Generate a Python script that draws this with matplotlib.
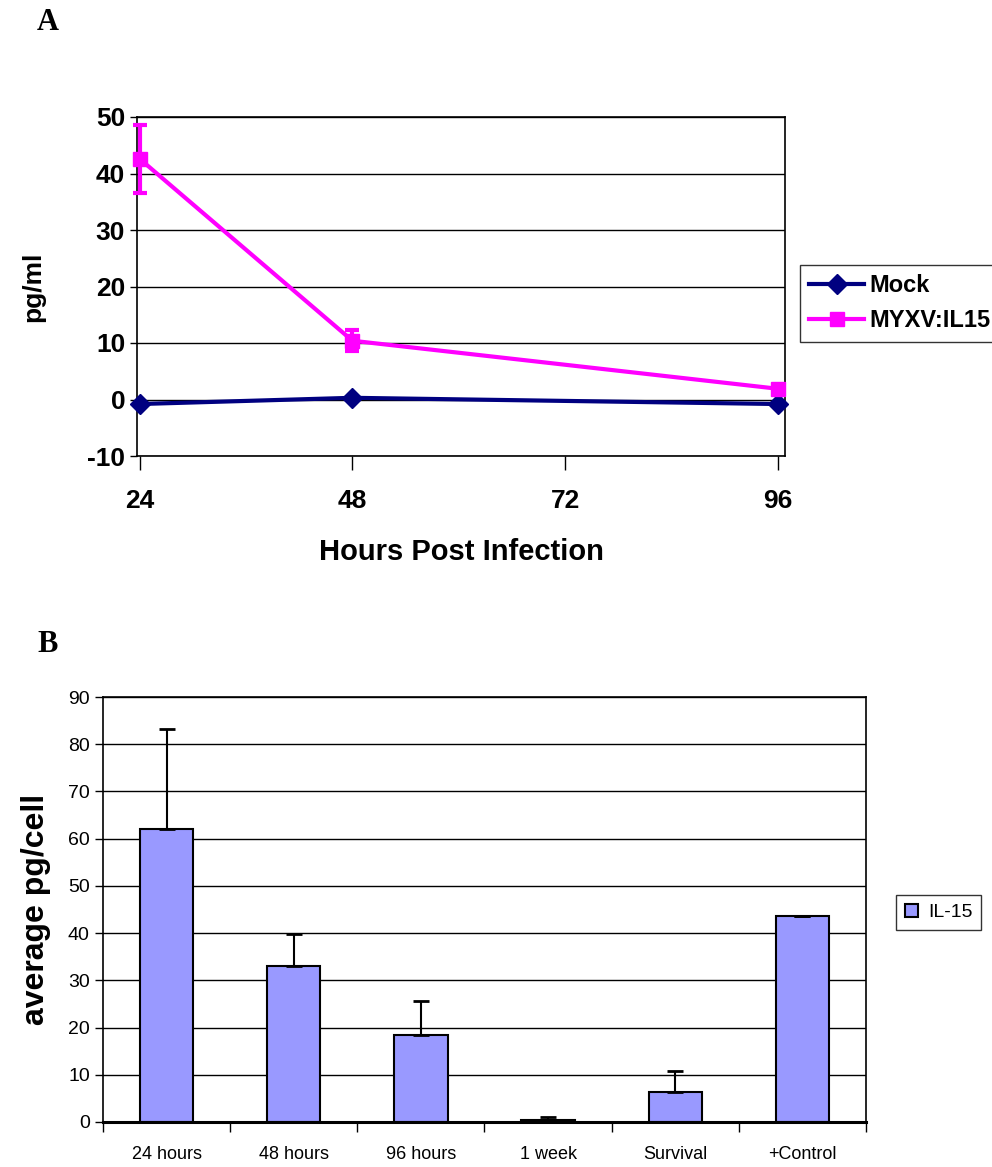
import matplotlib
matplotlib.use("Agg")
import matplotlib.pyplot as plt
from matplotlib.patches import Patch
from matplotlib.lines import Line2D
import numpy as np

plt.rcParams['font.family'] = ['Liberation Sans', 'DejaVu Sans']
plt.rcParams['axes.unicode_minus'] = False

# panel A data
hours = [24, 48, 96]
mock = [-0.8, 0.3, -0.8]
myxv = [42.6, 10.4, 1.9]
myxv_err = [6.0, 1.9, 0.0]

# panel B data
groups = ['24 hours', '48 hours', '96 hours', '1 week', 'Survival', '+Control']
il15 = [62.0, 33.0, 18.4, 0.5, 6.4, 43.6]
il15_err = [21.2, 6.8, 7.3, 0.6, 4.5, 0.0]

fig = plt.figure(figsize=(9.92, 11.67), dpi=100)
W, H = 992, 1167

def px_axes(l, t, r, b):
    return fig.add_axes([l / W, 1 - b / H, (r - l) / W, (b - t) / H])

# ---- panel A ----
ax1 = px_axes(137, 117, 785, 456)
ax1.set_axisbelow(True)
ax1.grid(axis='y', color='black', linewidth=1)
ax1.plot(hours, mock, color='#000080', linewidth=3, marker='D',
         markersize=10, zorder=3, clip_on=False)
ax1.errorbar(hours, myxv, yerr=myxv_err, color='#FF00FF', linewidth=3,
             marker='s', markersize=10, capsize=5, capthick=3,
             elinewidth=3, zorder=4, clip_on=False)
ax1.set_xlim(23.7, 96.8)
ax1.set_ylim(-10, 50)
ax1.set_xticks([24, 48, 72, 96])
ax1.set_yticks(range(-10, 51, 10))
ax1.tick_params(axis='x', length=10, width=1, pad=14, labelsize=19)
ax1.tick_params(axis='y', length=5, width=1, labelsize=19)
for lab in ax1.get_xticklabels() + ax1.get_yticklabels():
    lab.set_fontweight('bold')
ax1.set_xlabel('Hours Post Infection', fontsize=21, fontweight='bold', labelpad=18)
ax1.set_ylabel('pg/ml', fontsize=19, fontweight='bold', labelpad=30)
for s in ax1.spines.values():
    s.set_linewidth(1.2)

h1 = [Line2D([], [], color='#000080', linewidth=3, marker='D', markersize=10),
      Line2D([], [], color='#FF00FF', linewidth=3, marker='s', markersize=10)]
leg1 = fig.legend(h1, ['Mock', 'MYXV:IL15'], loc='upper left',
                  bbox_to_anchor=(800 / W, 1 - 265 / H),
                  prop={'size': 17, 'weight': 'bold'}, frameon=True, fancybox=False,
                  edgecolor='black', handlelength=2.3, handletextpad=0.25,
                  borderpad=0.4, borderaxespad=0, labelspacing=0.5)
leg1.get_frame().set_linewidth(1)

# ---- panel B ----
ax2 = px_axes(103, 697, 866, 1122)
ax2.set_axisbelow(True)
ax2.grid(axis='y', color='black', linewidth=1)
x = np.arange(len(groups))
err_lo = np.zeros(len(il15_err))
ax2.bar(x, il15, width=0.42, color='#9999FF', edgecolor='black', linewidth=1.5, zorder=2)
ax2.errorbar(x, il15, yerr=[err_lo, il15_err], fmt='none', ecolor='black',
             elinewidth=1.5, capsize=6, capthick=2, zorder=3)
ax2.set_xlim(-0.5, len(groups) - 0.5)
ax2.set_ylim(0, 90)
ax2.set_yticks(range(0, 91, 10))
ax2.set_xticks(x)
ax2.set_xticklabels(groups)
ax2.set_xticks(np.arange(len(groups) + 1) - 0.5, minor=True)
ax2.tick_params(axis='x', which='major', length=0, pad=17, labelsize=13)
ax2.tick_params(axis='x', which='minor', length=7, width=1)
ax2.tick_params(axis='y', length=6, width=1, labelsize=14)
ax2.set_ylabel('average pg/cell', fontsize=23, fontweight='bold', labelpad=12)
for s in ax2.spines.values():
    s.set_linewidth(1.2)
ax2.spines['bottom'].set_linewidth(2.2)

leg2 = fig.legend([Patch(facecolor='#9999FF', edgecolor='black', linewidth=1.5)], ['IL-15'],
                  loc='upper left', bbox_to_anchor=(896 / W, 1 - 895 / H),
                  prop={'size': 14}, frameon=True, fancybox=False, edgecolor='black',
                  handlelength=0.7, handleheight=0.7, handletextpad=0.5,
                  borderpad=0.45, borderaxespad=0)
leg2.get_frame().set_linewidth(1)

# panel letters
fig.text(48 / W, 1 - 22 / H, 'A', family=['Liberation Serif', 'DejaVu Serif'],
         fontsize=22, fontweight='bold', ha='center', va='center')
fig.text(48 / W, 1 - 645 / H, 'B', family=['Liberation Serif', 'DejaVu Serif'],
         fontsize=22, fontweight='bold', ha='center', va='center')

fig.savefig('out.png', dpi=100)
